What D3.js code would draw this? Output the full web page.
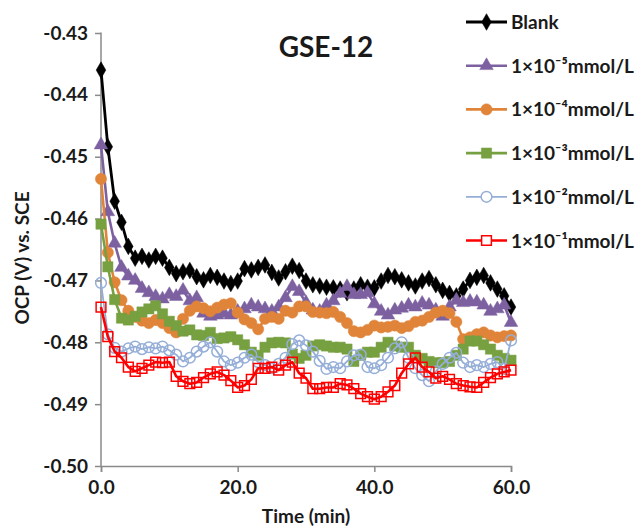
<!DOCTYPE html>
<html>
<head>
<meta charset="utf-8">
<script src="https://cdn.jsdelivr.net/npm/d3@7"></script>
<style>
  html, body { margin: 0; padding: 0; background: #fff; }
  svg text { font-family: Lato, "Open Sans", "DejaVu Sans", sans-serif; font-weight: bold; fill: #1a1a1a; }
</style>
</head>
<body>
<svg id="chart" width="636" height="526"></svg>
<script>
// Time axis (min), one reading per minute
const times = d3.range(0, 61);

const seriesNames = ["Blank", "1×10⁻⁵mmol/L", "1×10⁻⁴mmol/L", "1×10⁻³mmol/L", "1×10⁻²mmol/L", "1×10⁻¹mmol/L"];

const blank = [
  -0.4360, -0.4484, -0.4572, -0.4606, -0.4645, -0.4664, -0.4661, -0.4667, -0.4661, -0.4664,
  -0.4679, -0.4689, -0.4686, -0.4684, -0.4694, -0.4699, -0.4692, -0.4695, -0.4701, -0.4705,
  -0.4701, -0.4681, -0.4683, -0.4679, -0.4675, -0.4687, -0.4696, -0.4686, -0.4677, -0.4684,
  -0.4701, -0.4707, -0.4709, -0.4711, -0.4712, -0.4714, -0.4720, -0.4714, -0.4707, -0.4711,
  -0.4712, -0.4701, -0.4692, -0.4694, -0.4699, -0.4704, -0.4709, -0.4701, -0.4697, -0.4707,
  -0.4716, -0.4721, -0.4725, -0.4714, -0.4700, -0.4695, -0.4692, -0.4704, -0.4714, -0.4725,
  -0.4743
];

const conc1e5 = [
  -0.4481, -0.4589, -0.4640, -0.4679, -0.4693, -0.4700, -0.4713, -0.4720, -0.4726, -0.4730,
  -0.4723, -0.4726, -0.4716, -0.4733, -0.4728, -0.4753, -0.4758, -0.4756, -0.4753, -0.4756,
  -0.4750, -0.4746, -0.4740, -0.4743, -0.4746, -0.4750, -0.4743, -0.4728, -0.4710, -0.4718,
  -0.4736, -0.4748, -0.4750, -0.4740, -0.4733, -0.4721, -0.4710, -0.4723, -0.4723, -0.4720,
  -0.4738, -0.4750, -0.4756, -0.4748, -0.4745, -0.4740, -0.4743, -0.4737, -0.4740, -0.4748,
  -0.4758, -0.4743, -0.4732, -0.4736, -0.4734, -0.4735, -0.4740, -0.4750, -0.4746, -0.4740,
  -0.4768
];

const conc1e4 = [
  -0.4536, -0.4655, -0.4703, -0.4732, -0.4749, -0.4759, -0.4765, -0.4769, -0.4764, -0.4769,
  -0.4777, -0.4784, -0.4762, -0.4749, -0.4742, -0.4745, -0.4750, -0.4744, -0.4739, -0.4737,
  -0.4752, -0.4763, -0.4769, -0.4779, -0.4762, -0.4759, -0.4762, -0.4749, -0.4752, -0.4742,
  -0.4742, -0.4751, -0.4752, -0.4753, -0.4751, -0.4759, -0.4769, -0.4782, -0.4784, -0.4780,
  -0.4773, -0.4776, -0.4775, -0.4773, -0.4777, -0.4774, -0.4767, -0.4765, -0.4759, -0.4752,
  -0.4749, -0.4753, -0.4767, -0.4795, -0.4792, -0.4787, -0.4784, -0.4789, -0.4792, -0.4790,
  -0.4789
];

const conc1e3 = [
  -0.4609, -0.4678, -0.4731, -0.4761, -0.4764, -0.4758, -0.4751, -0.4746, -0.4741, -0.4754,
  -0.4766, -0.4773, -0.4782, -0.4780, -0.4788, -0.4789, -0.4784, -0.4794, -0.4793, -0.4791,
  -0.4796, -0.4804, -0.4816, -0.4821, -0.4808, -0.4801, -0.4800, -0.4801, -0.4819, -0.4826,
  -0.4821, -0.4806, -0.4804, -0.4806, -0.4808, -0.4808, -0.4811, -0.4831, -0.4821, -0.4816,
  -0.4816, -0.4808, -0.4800, -0.4806, -0.4808, -0.4808, -0.4821, -0.4826, -0.4831, -0.4833,
  -0.4833, -0.4831, -0.4821, -0.4811, -0.4798, -0.4798, -0.4804, -0.4811, -0.4821, -0.4826,
  -0.4829
];

const conc1e2 = [
  -0.4704, -0.4787, -0.4809, -0.4815, -0.4810, -0.4807, -0.4811, -0.4808, -0.4810, -0.4807,
  -0.4813, -0.4820, -0.4831, -0.4825, -0.4815, -0.4807, -0.4800, -0.4815, -0.4831, -0.4837,
  -0.4833, -0.4825, -0.4820, -0.4832, -0.4837, -0.4842, -0.4835, -0.4825, -0.4803, -0.4797,
  -0.4805, -0.4815, -0.4830, -0.4843, -0.4840, -0.4842, -0.4831, -0.4821, -0.4820, -0.4840,
  -0.4842, -0.4837, -0.4825, -0.4810, -0.4800, -0.4825, -0.4842, -0.4853, -0.4863, -0.4847,
  -0.4835, -0.4825, -0.4817, -0.4833, -0.4840, -0.4837, -0.4840, -0.4835, -0.4832, -0.4843,
  -0.4797
];

const conc1e1 = [
  -0.4743, -0.4791, -0.4815, -0.4825, -0.4840, -0.4847, -0.4842, -0.4837, -0.4832, -0.4833,
  -0.4832, -0.4855, -0.4863, -0.4867, -0.4865, -0.4857, -0.4851, -0.4848, -0.4853, -0.4862,
  -0.4873, -0.4870, -0.4860, -0.4842, -0.4842, -0.4840, -0.4845, -0.4837, -0.4832, -0.4850,
  -0.4858, -0.4875, -0.4875, -0.4873, -0.4873, -0.4867, -0.4869, -0.4875, -0.4883, -0.4888,
  -0.4892, -0.4888, -0.4880, -0.4870, -0.4850, -0.4835, -0.4825, -0.4840, -0.4848, -0.4858,
  -0.4855, -0.4860, -0.4867, -0.4870, -0.4872, -0.4873, -0.4865, -0.4857, -0.4851, -0.4848,
  -0.4845
];

const xTicks = [0, 20, 40, 60];
const yTicks = [-0.43, -0.44, -0.45, -0.46, -0.47, -0.48, -0.49, -0.50];

const styles = [
  { color: "#000000", symbol: d3.symbolDiamond, size: 80, fill: true, width: 2.8 },
  { color: "#7D60A0", symbol: d3.symbolTriangle, size: 80, fill: true, width: 2.6 },
  { color: "#E0843A", symbol: d3.symbolCircle, size: 100, fill: true, width: 2.6 },
  { color: "#77A040", symbol: d3.symbolSquare, size: 105, fill: true, width: 2.6 },
  { color: "#95AED8", symbol: d3.symbolCircle, size: 90, fill: false, width: 1.8 },
  { color: "#FF0000", symbol: d3.symbolSquare, size: 95, fill: false, width: 2.6 }
];

const allSeries = [blank, conc1e5, conc1e4, conc1e3, conc1e2, conc1e1];

const svg = d3.select("#chart");
const plot = { left: 101, right: 511, top: 33, bottom: 466 };

const x = d3.scaleLinear().domain([0, 60]).range([plot.left, plot.right]);
const y = d3.scaleLinear().domain([-0.50, -0.43]).range([plot.bottom, plot.top]);

// Axes
const axisColor = "#8a8a8a";
const yAxis = svg.append("g")
  .attr("transform", `translate(${plot.left},0)`)
  .call(d3.axisLeft(y).tickValues(yTicks).tickFormat(d => d.toFixed(2)).tickSize(6).tickPadding(7));
const xAxis = svg.append("g")
  .attr("transform", `translate(0,${plot.bottom})`)
  .call(d3.axisBottom(x).tickValues(xTicks).tickFormat(d => d.toFixed(1)).tickSize(6).tickPadding(9));
[yAxis, xAxis].forEach(g => {
  g.selectAll("path, line").attr("stroke", axisColor).attr("stroke-width", 1.5);
  g.selectAll("text").style("font-size", "19px").attr("fill", "#1a1a1a");
});
yAxis.select(".domain").attr("d", `M0,${plot.bottom}V${plot.top - 0.5}`);

// Axis titles
svg.append("text")
  .attr("x", 306).attr("y", 523)
  .attr("text-anchor", "middle")
  .style("font-size", "19px")
  .text("Time (min)");
svg.append("text")
  .attr("transform", "translate(29,258) rotate(-90)")
  .attr("text-anchor", "middle")
  .style("font-size", "19px")
  .text("OCP (V) vs. SCE");

// Chart title
svg.append("text")
  .attr("x", 326).attr("y", 57)
  .attr("text-anchor", "middle")
  .style("font-size", "28px")
  .text("GSE-12");

// Series lines and markers
const line = d3.line().x((d, i) => x(times[i])).y(d => y(d));

allSeries.forEach((vals, s) => {
  const st = styles[s];
  const g = svg.append("g");
  g.append("path")
    .datum(vals)
    .attr("d", line)
    .attr("fill", "none")
    .attr("stroke", st.color)
    .attr("stroke-width", st.width)
    .attr("stroke-linejoin", "round");
  g.selectAll("path.marker")
    .data(vals)
    .join("path")
    .attr("class", "marker")
    .attr("transform", (d, i) => `translate(${x(times[i])},${y(d)})`)
    .attr("d", d3.symbol(st.symbol, st.size))
    .attr("fill", st.fill ? st.color : "none")
    .attr("stroke", st.color)
    .attr("stroke-width", st.fill ? 0.5 : 1.5);
});

// Legend
const legend = svg.append("g");
seriesNames.forEach((name, s) => {
  const st = styles[s];
  const ly = 22 + s * 43.7;
  legend.append("line")
    .attr("x1", 466).attr("x2", 507).attr("y1", ly).attr("y2", ly)
    .attr("stroke", st.color).attr("stroke-width", st.width);
  legend.append("path")
    .attr("transform", `translate(486.5,${ly})`)
    .attr("d", d3.symbol(st.symbol, st.size))
    .attr("fill", st.fill ? st.color : "#fff")
    .attr("stroke", st.color)
    .attr("stroke-width", st.fill ? 0.5 : 1.5);
  legend.append("text")
    .attr("x", 511).attr("y", ly + 7)
    .style("font-size", "19px")
    .text(name);
});
</script>
</body>
</html>
